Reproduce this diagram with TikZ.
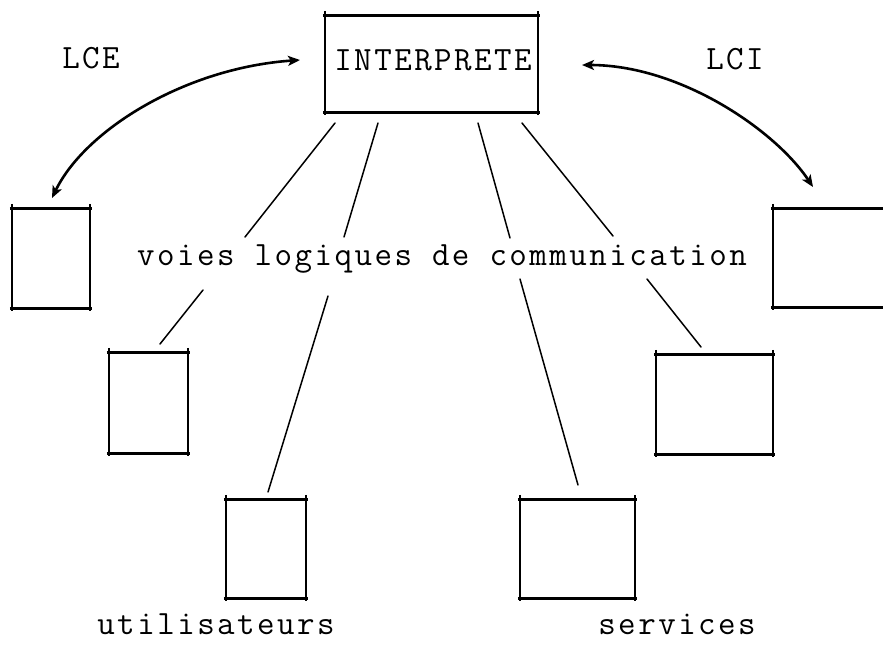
\documentclass[tikz,border=0pt]{standalone}
\usepackage{fontspec}
\setmonofont{Latin Modern Mono}[LetterSpace=7.3]
\usetikzlibrary{arrows.meta}

\tikzset{
  typed/.style={font=\ttfamily\fontsize{34}{38}\selectfont, inner sep=0pt},
  frame/.style={inner sep=0pt, draw=none},
  channel/.style={line width=1.5pt, line cap=round},
  lang/.style={line width=2.6pt, {Stealth[length=12pt,width=10pt,inset=3pt]}-{Stealth[length=12pt,width=10pt,inset=3pt]}}
}

\begin{document}
\begin{tikzpicture}[x=1pt,y=-1pt]
\clip (0,0) rectangle (883,657);
\fill[white] (0,0) rectangle (883,657);

% central interpreter and the peripheral terminals
\node[frame, minimum width=213pt, minimum height=96pt] (interp) at (431.5,64) {};
\node[frame, minimum width=78pt,  minimum height=99pt] (b1) at (51,258.5) {};
\node[frame, minimum width=79pt,  minimum height=100pt] (b2) at (148.5,403) {};
\node[frame, minimum width=80pt,  minimum height=98pt] (b3) at (266,549) {};
\node[frame, minimum width=115pt, minimum height=98pt] (b4) at (577.5,549) {};
\node[frame, minimum width=117pt, minimum height=99pt] (b5) at (714.5,404.5) {};
\node[frame, minimum width=132pt, minimum height=98pt] (b6) at (839,258) {};

% hand-ruled outlines: heavy horizontals, lighter verticals overshooting a little
\foreach \n in {interp,b1,b2,b3,b4,b5,b6}{
  \draw[line width=2.8pt] ([xshift=-2pt]\n.north west) -- ([xshift=2pt]\n.north east);
  \draw[line width=2.8pt] ([xshift=-2pt]\n.south west) -- ([xshift=2pt]\n.south east);
  \draw[line width=2pt] ([yshift=5pt]\n.north west) -- ([yshift=-3pt]\n.south west);
  \draw[line width=2pt] ([yshift=5pt]\n.north east) -- ([yshift=-3pt]\n.south east);
}

% labels
\node[typed, anchor=base] (tint) at (433,70) {INTERPRETE};
\node[typed, anchor=base] (lce) at (91,68) {LCE};
\node[typed, anchor=base] (lci) at (735,69) {LCI};
\node[typed, anchor=base] (voies) at (442,265) {voies logiques de communication};
\node[typed, anchor=base] (util) at (216,634) {utilisateurs};
\node[typed, anchor=base] (serv) at (677,634) {services};

% end points of the logical channels
\coordinate (a1) at (335,123); \coordinate (a2) at (245,237);
\coordinate (c1) at (378,123); \coordinate (c2) at (344,237);
\coordinate (e1) at (478,123); \coordinate (e2) at (510,238);
\coordinate (f1) at (522,123); \coordinate (f2) at (613,236);
\coordinate (g1) at (203,290); \coordinate (g2) at (160,344);
\coordinate (h1) at (328,296); \coordinate (h2) at (268,492);
\coordinate (k1) at (520,279); \coordinate (k2) at (578,485);
\coordinate (m1) at (647,279); \coordinate (m2) at (701,347);

\draw[channel] (a1) -- (a2);
\draw[channel] (c1) -- (c2);
\draw[channel] (e1) -- (e2);
\draw[channel] (f1) -- (f2);
\draw[channel] (g1) -- (g2);
\draw[channel] (h1) -- (h2);
\draw[channel] (k1) -- (k2);
\draw[channel] (m1) -- (m2);

% command language links
\coordinate (lceA) at (52,198);  \coordinate (lceB) at (300,60);
\coordinate (lciA) at (582,65);  \coordinate (lciB) at (813,187);
\draw[lang] (lceA) .. controls (85,130) and (185,68) .. (lceB);
\draw[lang] (lciA) .. controls (680,65) and (775,130) .. (lciB);
\end{tikzpicture}
\end{document}
